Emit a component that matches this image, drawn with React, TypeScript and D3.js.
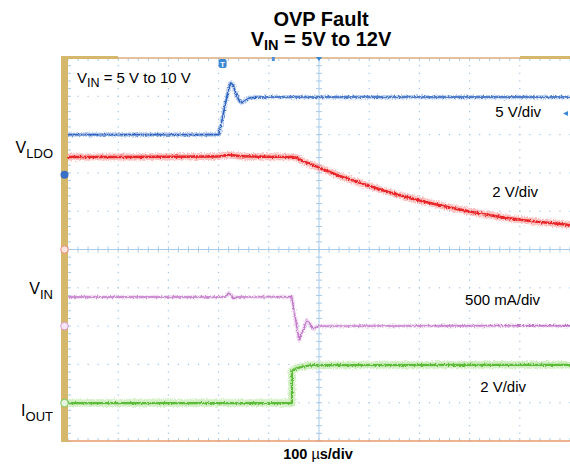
import React from "react";
import * as d3 from "d3";

// time in µs (screen spans -500..500), amplitude in screen divisions (-5..5)
const blueTrace: [number, number][] = [
  [-500, 3.0], [-200, 3.0], [-197, 3.15], [-188, 3.7], [-181, 4.15], [-176, 4.35], [-171, 4.3],
  [-165, 4.05], [-158, 3.86], [-153, 3.83], [-146, 3.9], [-138, 3.96], [-120, 3.98], [500, 3.98],
];
const redTrace: [number, number][] = [
  [-500, 2.415], [-300, 2.42], [-200, 2.43], [-180, 2.47], [-160, 2.44], [-100, 2.42], [-52, 2.415],
  [-28, 2.285], [2, 2.128], [32, 1.971], [62, 1.828], [92, 1.697], [122, 1.567], [181, 1.345],
  [247, 1.136], [311, 0.966], [375, 0.822], [440, 0.718], [500, 0.64],
];
const pinkTrace: [number, number][] = [
  [-500, -1.24], [-185, -1.24], [-181, -1.14], [-176, -1.17], [-170, -1.28], [-163, -1.24],
  [-54.4, -1.23], [-39.8, -2.36], [-32, -2.12], [-24.5, -1.84], [-18, -1.94], [-11.4, -2.08],
  [-5, -2.02], [-1.4, -2.0], [500, -1.99],
];
const greenTrace: [number, number][] = [
  [-500, -4.01], [-54, -4.01], [-54, -3.16], [-45, -3.1], [-30, -3.05], [-15, -3.02], [500, -3.01],
];

const titleLine1 = "OVP Fault";
const titleMain = "V";
const titleSub = "IN";
const titleRest = " = 5V to 12V";
const xAxisLabel = ["100 ", "\u00b5", "s/div"];
const annotation = ["V", "IN", " = 5 V to 10 V"];
const leftLabels: { main: string; sub: string; div: number }[] = [
  { main: "V", sub: "LDO", div: 2.52 },
  { main: "V", sub: "IN", div: -1.16 },
  { main: "I", sub: "OUT", div: -4.35 },
];
const scaleLabels: { text: string; t: number; div: number }[] = [
  { text: "5 V/div", t: 351, div: 3.45 },
  { text: "2 V/div", t: 345, div: 1.37 },
  { text: "500 mA/div", t: 291, div: -1.45 },
  { text: "2 V/div", t: 321, div: -3.72 },
];

const FONT = "'Liberation Sans', Arial, Helvetica, sans-serif";

export default function App() {
  const x = d3.scaleLinear().domain([-500, 500]).range([68, 570]);
  const y = d3.scaleLinear().domain([-5, 5]).range([441, 58]);
  const line = d3
    .line<[number, number]>()
    .x((d) => x(d[0]))
    .y((d) => y(d[1]));
  const smoothLine = d3
    .line<[number, number]>()
    .x((d) => x(d[0]))
    .y((d) => y(d[1]))
    .curve(d3.curveMonotoneX);

  const gridColor = "#9ec4e8";
  const majorT = d3.range(-400, 401, 100).filter((t) => t !== 0);
  const majorD = d3.range(-4, 5, 1).filter((v) => v !== 0);
  const minorT = d3.range(-500, 501, 20);
  const minorD = d3.range(-50, 51, 2).map((v) => v / 10);

  const dots: JSX.Element[] = [];
  majorD.forEach((dv) =>
    minorT.forEach((t, i) =>
      dots.push(
        <rect key={`h${dv}_${i}`} x={x(t) - 0.6} y={y(dv) - 0.6} width={1.2} height={1.2} fill={gridColor} />
      )
    )
  );
  majorT.forEach((t) =>
    minorD.forEach((dv, i) =>
      dots.push(
        <rect key={`v${t}_${i}`} x={x(t) - 0.6} y={y(dv) - 0.6} width={1.2} height={1.2} fill={gridColor} />
      )
    )
  );

  const traces = [
    { data: blueTrace, core: "#2d63bf", halo: "#86a8e0", cw: 1.6, hw: 4.2, smooth: false },
    { data: redTrace, core: "#e8282a", halo: "#f58f8c", cw: 2.4, hw: 7, smooth: true },
    { data: pinkTrace, core: "#c278c8", halo: "#e3bce6", cw: 1.4, hw: 3.6, smooth: false },
    { data: greenTrace, core: "#5bbb38", halo: "#ace190", cw: 2.2, hw: 7.5, smooth: false },
  ];

  return (
    <svg
      width={570}
      height={468}
      style={{ position: "absolute", left: 0, top: 0, background: "#fff", fontFamily: FONT }}
    >
      <defs>
        <filter id="noise" filterUnits="userSpaceOnUse" x={0} y={0} width={570} height={468}>
          <feTurbulence type="fractalNoise" baseFrequency="0.9 0.6" numOctaves={2} seed={4} result="t" />
          <feDisplacementMap in="SourceGraphic" in2="t" scale={5} xChannelSelector="R" yChannelSelector="G" />
        </filter>
        <filter id="noise2" filterUnits="userSpaceOnUse" x={0} y={0} width={570} height={468}>
          <feTurbulence type="fractalNoise" baseFrequency="0.7 0.5" numOctaves={2} seed={9} result="t" />
          <feDisplacementMap in="SourceGraphic" in2="t" scale={3.5} xChannelSelector="R" yChannelSelector="G" />
        </filter>
      </defs>
      <rect x={0} y={0} width={570} height={468} fill="#fff" />

      {/* title */}
      <text x={321} y={26} textAnchor="middle" fontSize={20} fontWeight="bold" fill="#000">
        {titleLine1}
      </text>
      <text x={321} y={46} textAnchor="middle" fontSize={20} fontWeight="bold" fill="#000">
        {titleMain}
        <tspan fontSize={14.5} dy={3.5}>{titleSub}</tspan>
        <tspan dy={-3.5}>{titleRest}</tspan>
      </text>

      {/* grid dots */}
      <g>{dots}</g>

      {/* centre cross */}
      <line x1={x(-500)} x2={x(500)} y1={y(0)} y2={y(0)} stroke="#a8cbea" strokeWidth={1} />
      <line x1={x(0)} x2={x(0)} y1={y(-5)} y2={y(5)} stroke="#a8cbea" strokeWidth={1} />
      {minorT.map((t, i) => (
        <line key={`ct${i}`} x1={x(t)} x2={x(t)} y1={y(0) - 3} y2={y(0) + 3} stroke="#a8cbea" strokeWidth={1} />
      ))}
      {minorD.map((dv, i) => (
        <line key={`cd${i}`} x1={x(0) - 3} x2={x(0) + 3} y1={y(dv)} y2={y(dv)} stroke="#a8cbea" strokeWidth={1} />
      ))}
      {/* edge ticks */}
      {minorT.map((t, i) => (
        <g key={`et${i}`}>
          <line x1={x(t)} x2={x(t)} y1={y(5)} y2={y(5) + 3} stroke="#a8cbea" strokeWidth={1} />
          <line x1={x(t)} x2={x(t)} y1={y(-5)} y2={y(-5) - 3} stroke="#a8cbea" strokeWidth={1} />
        </g>
      ))}
      {minorD.map((dv, i) => (
        <line key={`el${i}`} x1={x(-500)} x2={x(-500) + 3} y1={y(dv)} y2={y(dv)} stroke="#a8cbea" strokeWidth={1} />
      ))}

      {/* frame */}
      <line x1={x(-500)} x2={x(500)} y1={y(5)} y2={y(5)} stroke="#dcae7e" strokeWidth={1.4} />
      <line x1={x(-500)} x2={x(500)} y1={y(-5)} y2={y(-5)} stroke="#eb9a6c" strokeWidth={1.4} />
      <rect x={61} y={56} width={7} height={386} fill="#d6b86c" />
      <rect x={62} y={56} width={56} height={3} fill="#d6b86c" />
      <rect x={520} y={56} width={50} height={3} fill="#d6b86c" />

      {/* traces */}
      {traces.map((tr, i) => {
        const d = (tr.smooth ? smoothLine(tr.data) : line(tr.data)) ?? "";
        return (
          <g key={`tr${i}`}>
            <path d={d} fill="none" stroke={tr.halo} strokeWidth={tr.hw} strokeOpacity={0.55} filter="url(#noise)" strokeLinejoin="round" />
            <path d={d} fill="none" stroke={tr.core} strokeWidth={tr.cw} filter="url(#noise2)" strokeLinejoin="round" />
          </g>
        );
      })}

      {/* markers */}
      <circle cx={64.5} cy={y(1.95)} r={4} fill="#3a6fc6" />
      <circle cx={64.5} cy={y(0)} r={3.8} fill="#fbe3de" stroke="#f08a78" strokeWidth={1} />
      <circle cx={64.5} cy={y(-2.0)} r={3.8} fill="#f6e6f6" stroke="#d49ad6" strokeWidth={1} />
      <circle cx={64.5} cy={y(-4.01)} r={3.8} fill="#e6f5df" stroke="#7cc85e" strokeWidth={1} />
      <rect x={x(-192) - 4} y={59} width={8} height={9} rx={2} fill="#3b88d4" />
      <text x={x(-192)} y={66.5} textAnchor="middle" fontSize={7.5} fontWeight="bold" fill="#fff">T</text>
      <rect x={x(-91) - 1.5} y={57} width={3} height={4} fill="#4d8fd6" />
      <path d={`M${x(0) - 3},57 L${x(0) + 3},57 L${x(0)},61 Z`} fill="#3b88d4" />
      <path d={`M563,${y(3.55)} L568,${y(3.55) - 2.5} L568,${y(3.55) + 2.5} Z`} fill="#3b88d4" />

      {/* annotation */}
      <text x={77} y={83} fontSize={15} fill="#000">
        {annotation[0]}
        <tspan fontSize={12.5} dy={4}>{annotation[1]}</tspan>
        <tspan dy={-4}>{annotation[2]}</tspan>
      </text>

      {/* left labels */}
      {leftLabels.map((l, i) => (
        <text key={`ll${i}`} x={53} y={y(l.div)} textAnchor="end" fontSize={16} fill="#000">
          {l.main}
          <tspan fontSize={13} dy={5}>{l.sub}</tspan>
        </text>
      ))}

      {/* scale labels */}
      {scaleLabels.map((s, i) => (
        <text key={`sl${i}`} x={x(s.t)} y={y(s.div)} fontSize={15} fill="#000">
          {s.text}
        </text>
      ))}

      {/* x axis label */}
      <text x={318} y={459} textAnchor="middle" fontSize={14.5} fontWeight="bold" fill="#000">
        {xAxisLabel[0]}
        <tspan fontWeight="normal">{xAxisLabel[1]}</tspan>
        {xAxisLabel[2]}
      </text>
    </svg>
  );
}
